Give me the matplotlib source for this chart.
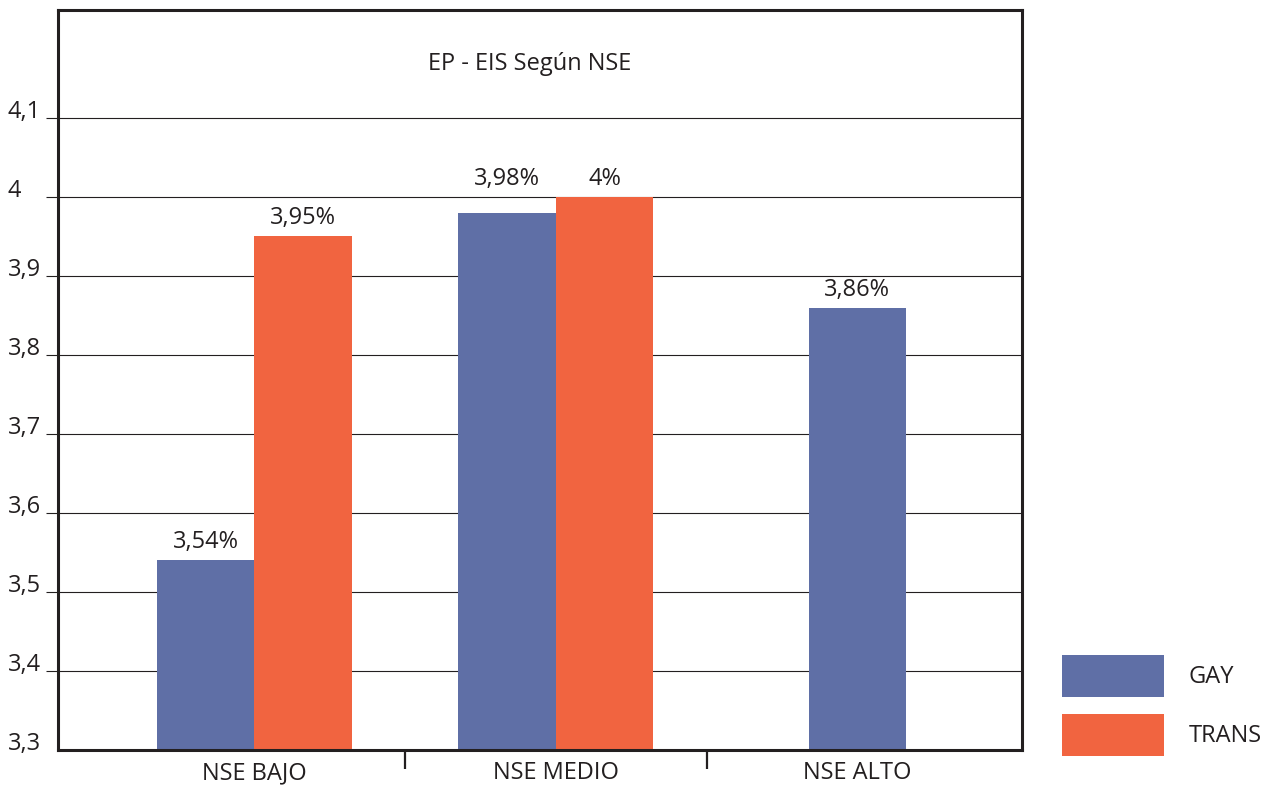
import matplotlib
matplotlib.use("Agg")
import matplotlib.pyplot as plt
import matplotlib.transforms as mtransforms
from matplotlib.patches import Patch

# Data
categories = ["NSE BAJO", "NSE MEDIO", "NSE ALTO"]
gay = [3.54, 3.98, 3.86]
trans = [3.95, 4.00, None]
series_names = ["GAY", "TRANS"]
y_ticks = [3.3, 3.4, 3.5, 3.6, 3.7, 3.8, 3.9, 4.0, 4.1]
title = "EP - EIS Según NSE"

BLUE = "#5F6FA6"
ORANGE = "#F16440"
INK = "#231F20"
FS = 17

plt.rcParams["font.family"] = ["Open Sans", "DejaVu Sans"]

fig = plt.figure(figsize=(12.72, 7.88), dpi=100)
ax = fig.add_axes([58 / 1272, 38 / 788, 964 / 1272, 740 / 788])

width = 0.323


def fmt(v):
    return f"{v:g}".replace(".", ",") + "%"


label_pos = []
for i, (g, t) in enumerate(zip(gay, trans)):
    if t is None:
        ax.bar(i, g, width=width, color=BLUE, zorder=2)
        label_pos.append((i, g, g))
    else:
        ax.bar(i - width / 2, g, width=width, color=BLUE, zorder=2)
        ax.bar(i + width / 2, t, width=width, color=ORANGE, zorder=2)
        # close values share one label row
        if abs(g - t) < 0.05:
            top = max(g, t)
            label_pos.append((i - width / 2, g, top))
            label_pos.append((i + width / 2, t, top))
        else:
            label_pos.append((i - width / 2, g, g))
            label_pos.append((i + width / 2, t, t))

offset = mtransforms.offset_copy(ax.transData, fig=fig, x=0, y=6, units="dots")
for x, v, ypos in label_pos:
    ax.text(x, ypos, fmt(v), transform=offset, ha="center", va="bottom",
            fontsize=FS, color=INK)

ax.set_ylim(3.3, 3.3 + 740 / 790)
ax.set_xlim(-0.651, 2.546)

# grid and ticks
ax.set_yticks(y_ticks[1:])
ax.set_yticklabels([])
ax.yaxis.grid(True, color=INK, linewidth=0.8)
ax.set_axisbelow(True)
ax.tick_params(axis="y", length=8.6, width=0.8, color=INK, direction="out")

ylab_tf = mtransforms.blended_transform_factory(fig.transFigure, ax.transData)
for v in y_ticks:
    ax.text(8 / 1272, v, f"{v:g}".replace(".", ","), transform=ylab_tf,
            ha="left", va="baseline", fontsize=FS, color=INK)

ax.set_xticks([0, 1, 2])
ax.set_xticklabels(categories, fontsize=FS, color=INK)
ax.tick_params(axis="x", which="major", length=0, pad=8)
ax.set_xticks([0.5, 1.5], minor=True)
ax.tick_params(axis="x", which="minor", length=14, width=1.6, color=INK,
               direction="out")

for sp in ax.spines.values():
    sp.set_linewidth(2.2)
    sp.set_color(INK)

ax.text(0.4896, 0.927, title, transform=ax.transAxes, ha="center",
        va="center", fontsize=FS, color=INK)

handles = [Patch(facecolor=BLUE, edgecolor="none"),
           Patch(facecolor=ORANGE, edgecolor="none")]
leg = fig.legend(handles, series_names, loc="upper left",
                 bbox_to_anchor=(1062 / 1272, 1 - 655 / 788),
                 frameon=False, fontsize=FS, borderpad=0, borderaxespad=0,
                 handlelength=4.3, handleheight=2.35, labelspacing=0.72,
                 handletextpad=1.05)
for txt in leg.get_texts():
    txt.set_color(INK)

fig.savefig("out.png", dpi=100)
